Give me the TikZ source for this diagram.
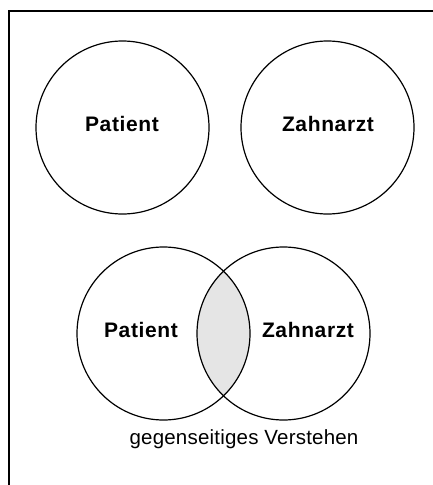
\documentclass[tikz,border=0pt]{standalone}
\usepackage{fontspec}
\setmainfont{Liberation Sans}
\newfontfamily\lblfont[LetterSpace=3]{Liberation Sans}
\newfontfamily\capfont[LetterSpace=1]{Liberation Sans}
\begin{document}
\begin{tikzpicture}[x=1pt,y=-1pt,
  ring/.style={draw=black,line width=1.2pt},
  lbl/.style={font=\lblfont\fontsize{21}{24}\selectfont\bfseries},
  captext/.style={font=\capfont\fontsize{20.5}{24}\selectfont}]
\useasboundingbox (0,0) rectangle (433,485);
\draw[line width=1.3pt] (9,485) -- (9,11) -- (433,11);
% top circles
\node[ring,circle,minimum size=173pt,inner sep=0pt] (p1) at (122.5,127.5) {};
\node[ring,circle,minimum size=173pt,inner sep=0pt] (z1) at (327.5,127.5) {};
\node[lbl] (pl1) at (122,124) {Patient};
\node[lbl] (zl1) at (328,124) {Zahnarzt};
% bottom overlapping circles
\begin{scope}
  \clip (163.5,333.5) circle (86.5);
  \fill[gray!20] (283.5,333.5) circle (86.5);
\end{scope}
\node[ring,circle,minimum size=173pt,inner sep=0pt] (p2) at (163.5,333.5) {};
\node[ring,circle,minimum size=173pt,inner sep=0pt] (z2) at (283.5,333.5) {};
\node[lbl] (pl2) at (141,330) {Patient};
\node[lbl] (zl2) at (308,330) {Zahnarzt};
\node[captext] (gv) at (244,439) {gegenseitiges Verstehen};
\end{tikzpicture}
\end{document}
